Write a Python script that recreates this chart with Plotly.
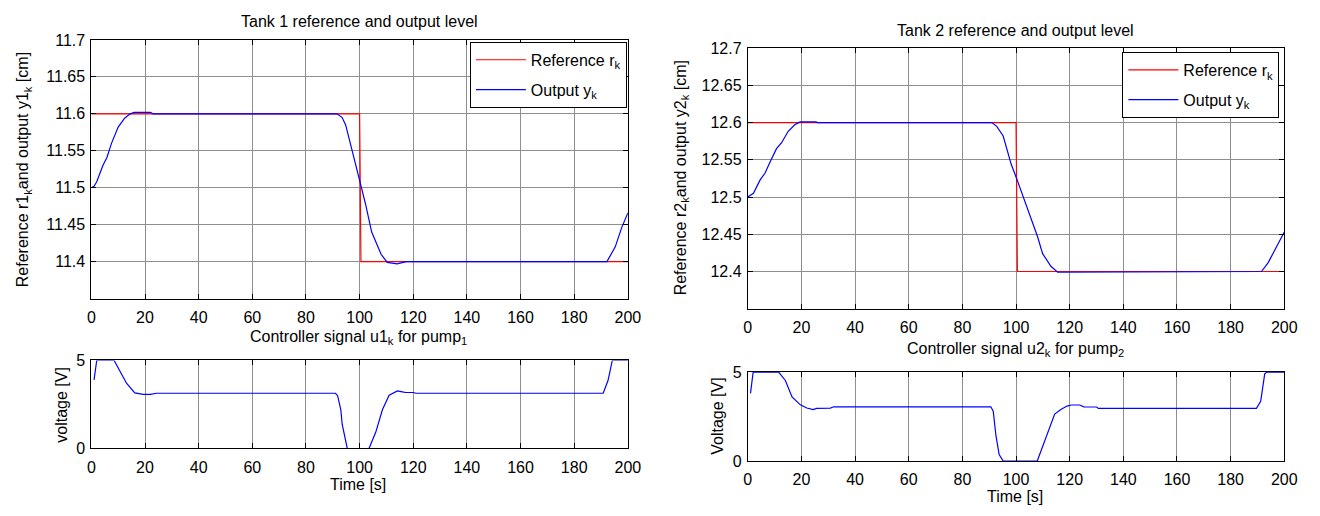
import plotly.graph_objects as go

W, H = 1320, 516

# ---------------- data ----------------
time_ref = [0, 100, 100.5, 200]
ref1 = [11.6, 11.6, 11.4, 11.4]
ref2 = [12.6, 12.6, 12.4, 12.4]

time_y1 = [0, 1, 2, 3, 4.3, 5.8, 7.5, 10, 12.4, 14.5, 16, 22, 23, 91.6, 93.5, 94.8, 96.5,
           98.2, 100, 102.2, 104.5, 106.5, 108, 110.3, 114, 117.4, 192.2, 195.3, 197.7, 200]
out_y1 = [11.5, 11.502, 11.508, 11.518, 11.53, 11.541, 11.56, 11.582, 11.594, 11.6, 11.602,
          11.602, 11.6, 11.6, 11.595, 11.585, 11.562, 11.536, 11.51, 11.478, 11.44, 11.422,
          11.41, 11.399, 11.397, 11.4, 11.4, 11.42, 11.446, 11.466]

time_y2 = [0, 2.1, 4.6, 6.4, 8.3, 10.7, 12.6, 15, 17.5, 19.5, 25.4, 26, 91, 92.8, 95.2, 98.2,
           100, 103.1, 106.2, 108, 109.9, 113, 115.5, 122.2, 123, 191.5, 194, 196.5, 200]
out_y2 = [12.5, 12.505, 12.523, 12.532, 12.547, 12.565, 12.573, 12.588, 12.597, 12.601,
          12.601, 12.6, 12.6, 12.595, 12.582, 12.544, 12.527, 12.497, 12.467, 12.447, 12.424,
          12.407, 12.399, 12.399, 12.4, 12.4, 12.412, 12.429, 12.453]

time_u1 = [1, 2, 8.5, 10.7, 13.1, 16.2, 18, 19.3, 22, 23, 24.3, 91, 91.8, 93, 93.5, 95.4,
           103.5, 106, 108.5, 111, 114.1, 115.9, 117.2, 120, 121, 190.8, 192.6, 194.2, 200]
u1 = [3.9, 5, 5, 4.41, 3.71, 3.16, 3.09, 3.07, 3.07, 3.1, 3.14, 3.14, 3.0, 2.2, 1.38, 0,
      0, 0.92, 2.2, 3.03, 3.27, 3.22, 3.18, 3.18, 3.14, 3.14, 3.86, 5, 5]

time_u2 = [1, 2, 11.5, 14, 16.5, 19.6, 22, 24.4, 25.6, 30.8, 32, 90.6, 91.5, 92.5, 93.7,
           95.2, 107.9, 111.3, 114.4, 116.7, 119, 120.6, 123.7, 125.3, 130, 130.7, 189.6,
           191.2, 192.7, 193.5, 200]
u2 = [3.8, 5, 5, 4.53, 3.6, 3.16, 2.98, 2.89, 2.96, 2.98, 3.05, 3.05, 2.8, 1.44, 0.36, 0,
      0, 1.36, 2.64, 2.9, 3.09, 3.15, 3.15, 3.05, 3.04, 2.96, 2.96, 3.36, 4.9, 5, 5]

x_ticks = [0, 20, 40, 60, 80, 100, 120, 140, 160, 180, 200]
y1_ticks = [11.4, 11.45, 11.5, 11.55, 11.6, 11.65, 11.7]
y1_labels = ["11.4", "11.45", "11.5", "11.55", "11.6", "11.65", "11.7"]
y2_ticks = [12.4, 12.45, 12.5, 12.55, 12.6, 12.65, 12.7]
y2_labels = ["12.4", "12.45", "12.5", "12.55", "12.6", "12.65", "12.7"]
u_ticks = [0, 5]

# ---------------- figure ----------------
FONT = "Liberation Sans, Arial, sans-serif"
FS = 16
RED, BLUE = "#ff0000", "#0000ff"

fig = go.Figure()
fig.add_trace(go.Scatter(x=time_ref, y=ref1, mode="lines", name="Reference r<sub>k</sub>",
                         line=dict(color=RED, width=1.2), xaxis="x", yaxis="y",
                         legend="legend", legendgroup="a"))
fig.add_trace(go.Scatter(x=time_y1, y=out_y1, mode="lines", name="Output y<sub>k</sub>",
                         line=dict(color=BLUE, width=1.2), xaxis="x", yaxis="y",
                         legend="legend", legendgroup="b"))
fig.add_trace(go.Scatter(x=time_ref, y=ref2, mode="lines", name="Reference r<sub>k</sub>",
                         line=dict(color=RED, width=1.2), xaxis="x2", yaxis="y2",
                         legend="legend2", legendgroup="c"))
fig.add_trace(go.Scatter(x=time_y2, y=out_y2, mode="lines", name="Output y<sub>k</sub>",
                         line=dict(color=BLUE, width=1.2), xaxis="x2", yaxis="y2",
                         legend="legend2", legendgroup="d"))
fig.add_trace(go.Scatter(x=time_u1, y=u1, mode="lines", showlegend=False,
                         line=dict(color=BLUE, width=1.2), xaxis="x3", yaxis="y3"))
fig.add_trace(go.Scatter(x=time_u2, y=u2, mode="lines", showlegend=False,
                         line=dict(color=BLUE, width=1.2), xaxis="x4", yaxis="y4"))


def px_x(p):
    return p / W


def px_y(p):
    return 1 - p / H


common = dict(showline=True, linecolor="black", linewidth=1, mirror="ticks",
              ticks="inside", ticklen=5, tickcolor="black", showgrid=True,
              gridcolor="#8f8f8f", gridwidth=1, zeroline=False,
              tickfont=dict(family=FONT, size=FS, color="black"))
xcommon = dict(ticklabelstandoff=4, **common)
ycommon = dict(ticklabelstandoff=2, **common)

LX = [px_x(88.5), px_x(632)]
RX = [px_x(753.5), px_x(1297)]

legend_style = dict(xanchor="right", yanchor="top", bgcolor="white", bordercolor="black",
                    borderwidth=1, font=dict(family=FONT, size=FS, color="black"),
                    traceorder="grouped", tracegroupgap=6, itemwidth=50)

fig.update_layout(
    width=W, height=H, autosize=False,
    margin=dict(l=0, r=0, t=0, b=0),
    paper_bgcolor="white", plot_bgcolor="white",
    font=dict(family=FONT, size=FS, color="black"),
    xaxis=dict(domain=LX, range=[0, 200], tickvals=x_ticks, anchor="y", **xcommon),
    yaxis=dict(domain=[px_y(300.5), px_y(33)], range=[11.35, 11.7], tickvals=y1_ticks,
               ticktext=y1_labels, anchor="x", **ycommon),
    xaxis2=dict(domain=RX, range=[0, 200], tickvals=x_ticks, anchor="y2", **xcommon),
    yaxis2=dict(domain=[px_y(311), px_y(41.5)], range=[12.35, 12.7], tickvals=y2_ticks,
                ticktext=y2_labels, anchor="x2", **ycommon),
    xaxis3=dict(domain=LX, range=[0, 200], tickvals=x_ticks, anchor="y3", **xcommon),
    yaxis3=dict(domain=[px_y(455.5), px_y(364.5)], range=[0, 5], tickvals=u_ticks,
                anchor="x3", **ycommon),
    xaxis4=dict(domain=RX, range=[0, 200], tickvals=x_ticks, anchor="y4", **xcommon),
    yaxis4=dict(domain=[px_y(468.5), px_y(376.5)], range=[0, 5], tickvals=u_ticks,
                anchor="x4", **ycommon),
    legend=dict(x=px_x(631), y=px_y(35), **legend_style),
    legend2=dict(x=px_x(1292), y=px_y(45.5), **legend_style),
)

ann = [
    dict(text="Tank 1 reference and output level", x=px_x(360), y=px_y(14)),
    dict(text="Tank 2 reference and output level", x=px_x(1025), y=px_y(23)),
    dict(text="Controller signal u1<sub>k</sub> for pump<sub>1</sub>", x=px_x(359), y=px_y(341)),
    dict(text="Controller signal u2<sub>k</sub> for pump<sub>2</sub>", x=px_x(1025), y=px_y(353)),
    dict(text="Time [s]", x=px_x(359), y=px_y(493)),
    dict(text="Time [s]", x=px_x(1024), y=px_y(505)),
    dict(text="Reference r1<sub>k</sub>and output y1<sub>k</sub> [cm]", x=px_x(20),
         y=px_y(167), textangle=-90),
    dict(text="Reference r2<sub>k</sub>and output y2<sub>k</sub> [cm]", x=px_x(686),
         y=px_y(176), textangle=-90),
    dict(text="voltage [V]", x=px_x(58), y=px_y(410), textangle=-90),
    dict(text="Voltage [V]", x=px_x(722), y=px_y(422), textangle=-90),
]
for a in ann:
    fig.add_annotation(xref="paper", yref="paper", showarrow=False, xanchor="center",
                       yanchor="middle", font=dict(family=FONT, size=FS, color="black"), **a)

fig.write_html("out.html")
